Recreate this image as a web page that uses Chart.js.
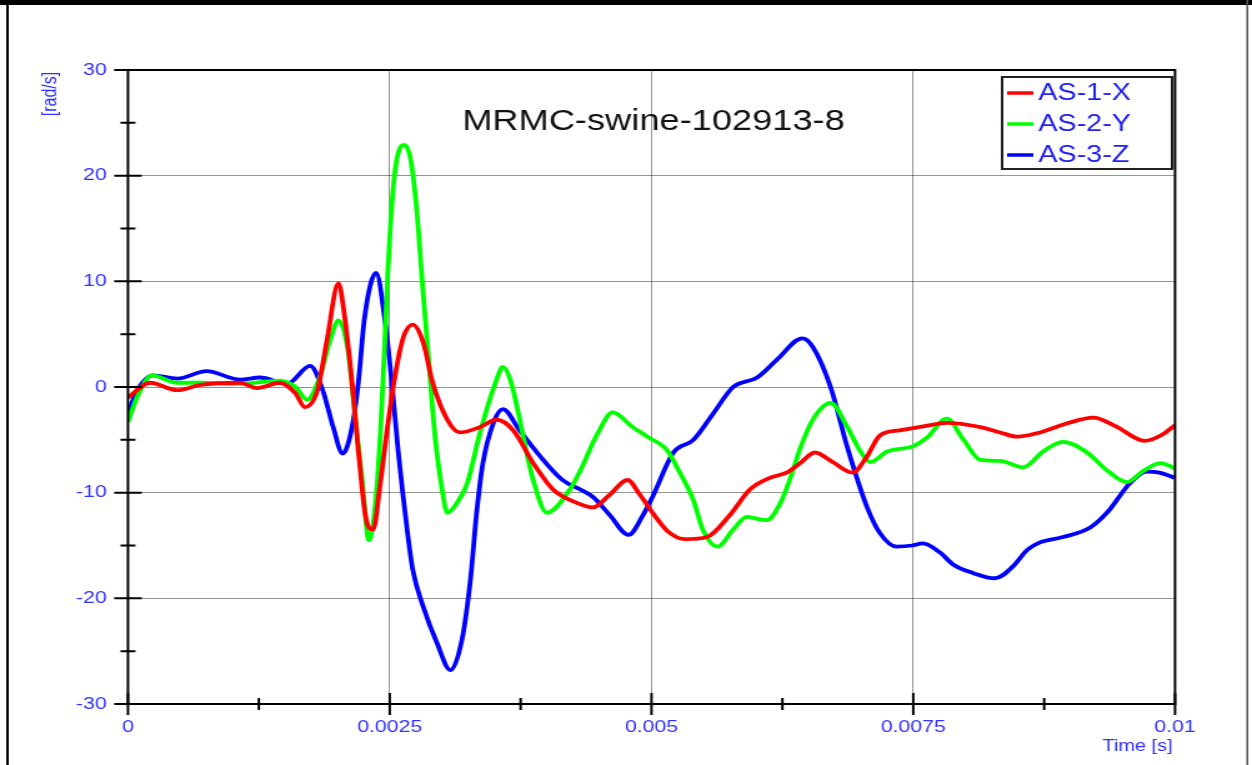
<!DOCTYPE html>
<html>
<head>
<meta charset="utf-8">
<script src="https://cdn.jsdelivr.net/npm/chart.js@4.4.1/dist/chart.umd.min.js"></script>
<style>
    html, body { margin: 0; padding: 0; background: #fff; overflow: hidden; }
    #grafico { display: block; }
</style>
</head>
<body>
<!-- drawn 1002 wide, shown 1252 wide: the original picture is stretched sideways -->
<canvas id="grafico" width="1002" height="765" style="width:1252px;height:765px"></canvas>
<script>
// AS-1-X (red)
const tempoX = [0, 0.00021, 0.00047, 0.00069, 0.00107, 0.00123, 0.00145, 0.0016, 0.00169, 0.00181,
    0.0019, 0.00201, 0.00207, 0.00214, 0.0022, 0.00227, 0.00234, 0.00241, 0.00247, 0.00255,
    0.00263, 0.00272, 0.00282, 0.00291, 0.00305, 0.00317, 0.00336, 0.00352, 0.00368, 0.00387,
    0.00406, 0.00427, 0.00444, 0.0046, 0.00477, 0.00489, 0.00501, 0.00516, 0.00532, 0.00553,
    0.00575, 0.00594, 0.00613, 0.00629, 0.00642, 0.00656, 0.00673, 0.00692, 0.00705, 0.00718,
    0.00737, 0.00761, 0.00782, 0.00814, 0.00833, 0.00849, 0.00871, 0.00895, 0.00922, 0.00943,
    0.00971, 0.00988, 0.01]
const valoresX = [-1.0, 0.4, -0.3, 0.2, 0.4, -0.1, 0.4, -0.6, -1.9, -0.3,
    4.4, 9.8, 6.6, 0.4, -6.0, -12.3, -13.5, -9.1, -4.4, 1.0,
    4.7, 5.9, 4.2, 0.4, -3.1, -4.3, -3.8, -3.1, -4.1, -7.2,
    -9.7, -10.9, -11.4, -10.2, -8.8, -10.2, -11.9, -13.7, -14.4, -14.2,
    -12.1, -9.7, -8.6, -8.1, -7.2, -6.2, -7.1, -8.1, -6.7, -4.6,
    -4.1, -3.7, -3.4, -3.8, -4.3, -4.7, -4.3, -3.5, -2.9, -3.7,
    -5.1, -4.5, -3.6]

// AS-2-Y (green)
const tempoY = [0, 0.00009, 0.00023, 0.00047, 0.00069, 0.00107, 0.00145, 0.0016, 0.00171, 0.00183,
    0.00193, 0.00201, 0.0021, 0.00217, 0.00224, 0.0023, 0.00238, 0.00244, 0.00248, 0.00253,
    0.00258, 0.00264, 0.0027, 0.00276, 0.00281, 0.00286, 0.00293, 0.003, 0.00305, 0.00314,
    0.00324, 0.00336, 0.00352, 0.00358, 0.00365, 0.00387, 0.004, 0.00422, 0.00432, 0.00448,
    0.00463, 0.00482, 0.00496, 0.00515, 0.00527, 0.0054, 0.00549, 0.00563, 0.00578, 0.00591,
    0.0061, 0.00623, 0.00632, 0.00642, 0.00654, 0.00671, 0.00687, 0.00699, 0.00709, 0.00725,
    0.0075, 0.00763, 0.00782, 0.00798, 0.00814, 0.00833, 0.00855, 0.00874, 0.00893, 0.00916,
    0.00935, 0.00954, 0.00969, 0.00986, 0.01]
const valoresY = [-3.3, -0.9, 1.1, 0.4, 0.4, 0.3, 0.6, 0.0, -1.2, 0.9,
    4.4, 6.3, 3.5, -2.8, -9.1, -14.5, -9.1, 1.5, 10.5, 18.5,
    22.1, 22.9, 21.5, 16.5, 10.0, 4.0, -4.4, -9.7, -11.9, -11.0,
    -9.1, -4.4, 0.7, 1.9, 0.7, -8.8, -11.9, -9.7, -7.9, -4.5,
    -2.4, -3.8, -4.7, -6.0, -8.1, -10.7, -13.5, -15.1, -13.5, -12.3,
    -12.6, -11.0, -8.8, -5.8, -3.1, -1.5, -3.8, -6.0, -7.1, -6.1,
    -5.6, -4.8, -3.0, -5.0, -6.9, -7.0, -7.6, -6.1, -5.2, -6.2,
    -7.9, -9.0, -8.0, -7.2, -7.7]

// AS-3-Z (blue)
const tempoZ = [0, 0.00009, 0.00024, 0.00047, 0.00075, 0.00107, 0.00126, 0.00152, 0.00174, 0.00186,
    0.00196, 0.00205, 0.00214, 0.0022, 0.00226, 0.00237, 0.00245, 0.00252, 0.00258, 0.00267,
    0.00272, 0.00282, 0.00295, 0.00308, 0.00319, 0.00327, 0.00333, 0.00339, 0.00349, 0.00358,
    0.00374, 0.00394, 0.00415, 0.00432, 0.00444, 0.0046, 0.00478, 0.00492, 0.00501, 0.00521,
    0.0054, 0.00559, 0.00578, 0.00601, 0.0062, 0.00644, 0.00654, 0.00671, 0.00687, 0.00706,
    0.00718, 0.00734, 0.00749, 0.00759, 0.00776, 0.00788, 0.00807, 0.00828, 0.00845, 0.00859,
    0.00871, 0.00893, 0.00919, 0.00935, 0.00957, 0.00973, 0.00985, 0.01]
const valoresZ = [-2.5, -0.3, 1.1, 0.8, 1.5, 0.7, 0.9, 0.3, 2.0, -0.3,
    -3.8, -6.3, -3.8, 0.4, 6.6, 10.8, 6.6, 0.4, -6.0, -13.8,
    -17.3, -20.8, -24.2, -26.8, -23.9, -18.3, -11.9, -7.2, -3.4, -2.1,
    -4.1, -6.6, -8.8, -9.7, -10.4, -12.1, -14.0, -12.1, -10.4, -6.2,
    -5.0, -2.5, 0.0, 0.9, 2.6, 4.6, 3.8, 0.0, -5.7, -11.4,
    -13.8, -15.1, -15.0, -14.8, -15.7, -16.8, -17.6, -18.1, -17.0, -15.4,
    -14.7, -14.2, -13.3, -11.9, -9.1, -8.0, -8.1, -8.6]

const nomesSeries = ['AS-1-X', 'AS-2-Y', 'AS-3-Z']
const coresSeries = ['#ff0000', '#00ff00', '#0000ff']
const ticksX = [0, 0.0025, 0.005, 0.0075, 0.01]
const ticksY = [-30, -20, -10, 0, 10, 20, 30]

const tituloGrafico = 'MRMC-swine-102913-8'
const tituloEixoX = 'Time [s]'
const tituloEixoY = '[rad/s]'

const azulTexto = '#3030ff'
const fonte = "'Liberation Sans', Arial, sans-serif"

function montarPontos(tempos, valores) {
    return tempos.map((t, i) => ({ x: t, y: valores[i] }))
}

// midpoints for the minor tick marks
function meios(lista) {
    const r = []
    for (let i = 0; i < lista.length - 1; i++) r.push((lista[i] + lista[i + 1]) / 2)
    return r
}

// axes box, tick marks, frame, title, legend
const desenhos = {
    id: 'desenhos',
    beforeDraw(chart) {
        const ctx = chart.ctx
        ctx.save()
        ctx.fillStyle = '#fff'
        ctx.fillRect(0, 0, chart.width, chart.height)
        ctx.restore()
    },
    afterDraw(chart) {
        const ctx = chart.ctx
        const area = chart.chartArea
        const sx = chart.scales.x
        const sy = chart.scales.y
        ctx.save()

        // page frame
        ctx.fillStyle = '#000'
        ctx.fillRect(0, 0, chart.width, 5)
        ctx.fillRect(5, 0, 2, chart.height)
        ctx.fillStyle = '#555'
        ctx.fillRect(997.5, 0, 1.5, chart.height)

        // plot box
        ctx.strokeStyle = '#000'
        ctx.lineWidth = 2
        ctx.strokeRect(area.left, area.top, area.right - area.left, area.bottom - area.top)

        // tick marks crossing the axes
        ctx.lineWidth = 2
        ctx.beginPath()
        ticksY.forEach(v => {
            const y = sy.getPixelForValue(v)
            ctx.moveTo(area.left - 11, y); ctx.lineTo(area.left + 11, y)
        })
        meios(ticksY).forEach(v => {
            const y = sy.getPixelForValue(v)
            ctx.moveTo(area.left - 6, y); ctx.lineTo(area.left + 6, y)
        })
        ticksX.forEach(v => {
            const x = sx.getPixelForValue(v)
            ctx.moveTo(x, area.bottom - 11); ctx.lineTo(x, area.bottom + 11)
        })
        meios(ticksX).forEach(v => {
            const x = sx.getPixelForValue(v)
            ctx.moveTo(x, area.bottom - 6); ctx.lineTo(x, area.bottom + 6)
        })
        ctx.stroke()

        // title inside the plot
        ctx.fillStyle = '#111'
        ctx.font = '29px ' + fonte
        ctx.textAlign = 'center'
        ctx.textBaseline = 'middle'
        ctx.fillText(tituloGrafico, 523, 122)

        // axis titles
        ctx.fillStyle = azulTexto
        ctx.font = '16px ' + fonte
        ctx.textAlign = 'right'
        ctx.fillText(tituloEixoX, 938.5, 747)
        ctx.save()
        ctx.translate(40.8, 94)
        ctx.rotate(-Math.PI / 2)
        ctx.textAlign = 'center'
        ctx.fillText(tituloEixoY, 0, 0)
        ctx.restore()

        // legend box
        const lx = 802, ly = 77, lw = 136, lh = 92
        ctx.fillStyle = '#fff'
        ctx.fillRect(lx, ly, lw, lh)
        ctx.strokeStyle = '#222'
        ctx.lineWidth = 2
        ctx.strokeRect(lx, ly, lw, lh)
        ctx.font = '23px ' + fonte
        ctx.textAlign = 'left'
        ctx.textBaseline = 'middle'
        chart.data.datasets.forEach((ds, i) => {
            const y = 93 + i * 31
            ctx.strokeStyle = ds.borderColor
            ctx.lineWidth = 3.5
            ctx.beginPath()
            ctx.moveTo(806, y); ctx.lineTo(827, y)
            ctx.stroke()
            ctx.fillStyle = '#2020f0'
            ctx.fillText(ds.label, 831, y + 1)
        })
        ctx.restore()
    }
}

const grafico = new Chart(document.querySelector('#grafico'), {
    type: 'line',
    data: {
        datasets: [
            { label: nomesSeries[0], data: montarPontos(tempoX, valoresX), borderColor: coresSeries[0] },
            { label: nomesSeries[1], data: montarPontos(tempoY, valoresY), borderColor: coresSeries[1] },
            { label: nomesSeries[2], data: montarPontos(tempoZ, valoresZ), borderColor: coresSeries[2] }
        ]
    },
    options: {
        responsive: false,
        animation: false,
        devicePixelRatio: 1,
        layout: { padding: { left: 0, top: 70, right: 61.6, bottom: 0 } },
        elements: {
            point: { radius: 0 },
            line: { borderWidth: 3.8, cubicInterpolationMode: 'monotone' }
        },
        plugins: { legend: { display: false }, tooltip: { enabled: false } },
        scales: {
            x: {
                type: 'linear',
                min: 0,
                max: 0.01,
                afterBuildTicks: scale => { scale.ticks = ticksX.map(v => ({ value: v })) },
                afterFit: scale => { scale.height = 61 },
                ticks: {
                    padding: 13,
                    color: azulTexto,
                    font: { family: fonte, size: 17 },
                    maxRotation: 0,
                    callback: v => String(v)
                },
                grid: { color: 'rgba(0,0,0,0.42)', lineWidth: 1, drawTicks: false },
                border: { display: false }
            },
            y: {
                min: -30,
                max: 30,
                afterBuildTicks: scale => { scale.ticks = ticksY.map(v => ({ value: v })) },
                afterFit: scale => { scale.width = 102.4 },
                ticks: {
                    padding: 17,
                    color: azulTexto,
                    font: { family: fonte, size: 17 },
                    callback: v => String(v)
                },
                grid: { color: 'rgba(0,0,0,0.42)', lineWidth: 1, drawTicks: false },
                border: { display: false }
            }
        }
    },
    plugins: [desenhos]
})
</script>
</body>
</html>
